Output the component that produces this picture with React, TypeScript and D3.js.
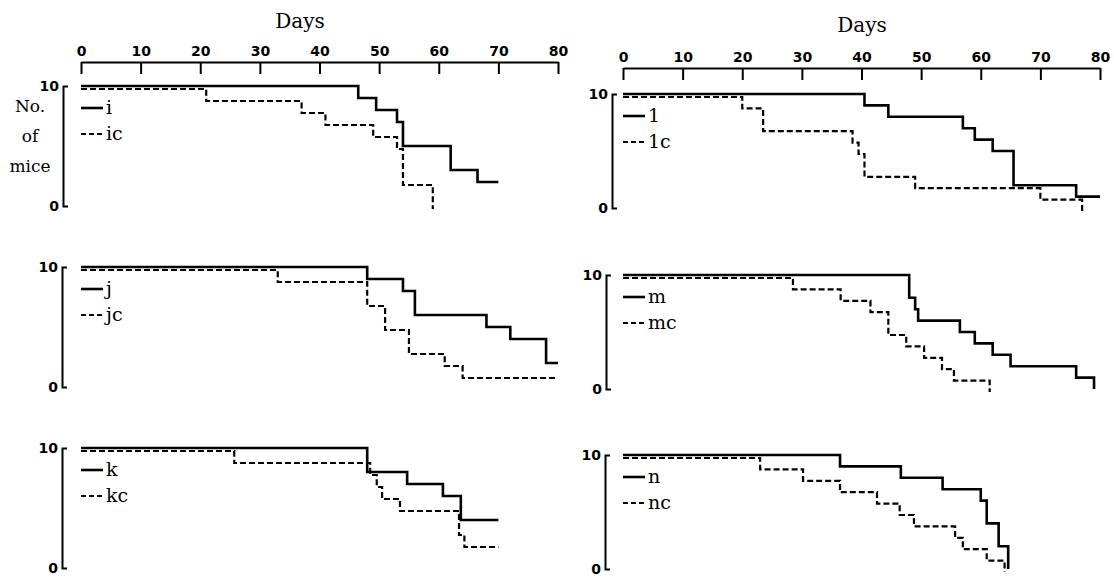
import React, { Component } from "react";
import * as d3 from "d3";

// survival steps: [day, number of mice alive from that day on]
const iSteps: [number, number][] = [[0, 10], [46.5, 9], [49.5, 8], [53, 7], [54, 5], [62, 3], [66.5, 2], [70, 2]];
const icSteps: [number, number][] = [[0, 10], [21, 9], [37, 8], [41, 7], [49, 6], [53, 5], [54, 2], [59, 0]];
const lSteps: [number, number][] = [[0, 10], [40.5, 9], [44.5, 8], [57, 7], [59, 6], [62, 5], [65.5, 2], [76, 1], [80, 1]];
const lcSteps: [number, number][] = [[0, 10], [20, 9], [23.5, 7], [38.5, 6], [39.5, 5], [40.5, 3], [49, 2], [70, 1], [77, 0]];
const jSteps: [number, number][] = [[0, 10], [48, 9], [54, 8], [56, 6], [68, 5], [72, 4], [78, 2], [80, 2]];
const jcSteps: [number, number][] = [[0, 10], [33, 9], [48, 7], [51, 5], [55, 3], [61, 2], [64, 1], [80, 1]];
const mSteps: [number, number][] = [[0, 10], [48, 8], [49, 7], [49.5, 6], [56.5, 5], [59, 4], [62, 3], [65, 2], [76, 1], [79, 0]];
const mcSteps: [number, number][] = [[0, 10], [28.5, 9], [36.5, 8], [41.5, 7], [44.5, 5], [47.5, 4], [50.5, 3], [53.5, 2], [55.5, 1], [61.5, 0]];
const kSteps: [number, number][] = [[0, 10], [48, 8], [54.7, 7], [60.7, 6], [63.7, 4], [70, 4]];
const kcSteps: [number, number][] = [[0, 10], [25.7, 9], [48.5, 8], [49.6, 7], [50.5, 6], [53.5, 5], [63.4, 3], [64.3, 2], [70, 2]];
const nSteps: [number, number][] = [[0, 10], [36.4, 9], [46.6, 8], [53.6, 7], [60, 6], [61, 4], [63, 2], [64.6, 0]];
const ncSteps: [number, number][] = [[0, 10], [23, 9], [30.2, 8], [36.4, 7], [42.6, 6], [46.4, 5], [48.8, 4], [55.7, 3], [57, 2], [61, 1], [64, 0]];

const seriesNames = ["i", "1", "j", "m", "k", "n"];
const dayTicks = [0, 10, 20, 30, 40, 50, 60, 70, 80];
const miceTicks = [0, 10];

const numFont = "'DejaVu Sans', sans-serif";
const wordFont = "'DejaVu Serif', serif";

class SurvivalChart extends Component {
    node: SVGSVGElement | null = null;

    componentDidMount() {
        this.draw();
    }

    draw() {
        const svg = d3.select(this.node);
        svg.selectAll("*").remove();

        const columns = [
            { x: d3.scaleLinear().domain([0, 80]).range([81, 558]), axisY: 62, daysX: 300, daysY: 28,
              tops: [86, 267, 448], h: 120, yAxisX: [63, 62, 62], legX: 81 },
            { x: d3.scaleLinear().domain([0, 80]).range([623, 1100]), axisY: 68, daysX: 862, daysY: 32,
              tops: [94, 275, 455], h: 114, yAxisX: [612, 606, 605], legX: 623 }
        ];

        const panels = [
            { col: 0, row: 0, solid: iSteps, dashed: icSteps, name: seriesNames[0] },
            { col: 1, row: 0, solid: lSteps, dashed: lcSteps, name: seriesNames[1] },
            { col: 0, row: 1, solid: jSteps, dashed: jcSteps, name: seriesNames[2] },
            { col: 1, row: 1, solid: mSteps, dashed: mcSteps, name: seriesNames[3] },
            { col: 0, row: 2, solid: kSteps, dashed: kcSteps, name: seriesNames[4] },
            { col: 1, row: 2, solid: nSteps, dashed: ncSteps, name: seriesNames[5] }
        ];

        // top day axes
        columns.forEach(c => {
            const g = svg.append("g").attr("transform", `translate(0,${c.axisY})`)
                .call(d3.axisTop(c.x).tickValues(dayTicks).tickSizeInner(-12).tickSizeOuter(0).tickPadding(6));
            g.select(".domain").attr("stroke", "#000").attr("stroke-width", 2.2);
            g.selectAll(".tick line").attr("stroke", "#000").attr("stroke-width", 2);
            g.selectAll(".tick text")
                .attr("font-family", numFont).attr("font-size", 14).attr("font-weight", "bold").attr("fill", "#000");

            svg.append("text")
                .attr("x", c.daysX).attr("y", c.daysY)
                .attr("text-anchor", "middle")
                .attr("font-family", wordFont).attr("font-size", 20)
                .text("Days");
        });

        panels.forEach(p => {
            const c = columns[p.col];
            const top = c.tops[p.row];
            const y = d3.scaleLinear().domain([0, 10]).range([top + c.h, top]);

            const ya = svg.append("g").attr("transform", `translate(${c.yAxisX[p.row]},0)`)
                .call(d3.axisLeft(y).tickValues(miceTicks).tickSizeInner(-5).tickSizeOuter(-5).tickPadding(4));
            ya.select(".domain").attr("stroke", "#000").attr("stroke-width", 2);
            ya.selectAll(".tick line").remove();
            ya.selectAll(".tick text")
                .attr("font-family", numFont).attr("font-size", 14).attr("font-weight", "bold").attr("fill", "#000");

            const line = d3.line<[number, number]>()
                .x(d => c.x(d[0]))
                .y(d => y(d[1]))
                .curve(d3.curveStepAfter);

            // dashed curve sits a hair below the solid one, as drawn
            svg.append("path")
                .datum(p.dashed)
                .attr("transform", "translate(0,3)")
                .attr("fill", "none").attr("stroke", "#000")
                .attr("stroke-width", 2.2).attr("stroke-dasharray", "6,3")
                .attr("d", line);

            svg.append("path")
                .datum(p.solid)
                .attr("fill", "none").attr("stroke", "#000")
                .attr("stroke-width", 2.6)
                .attr("d", line);

            // legend
            const lg = svg.append("g").attr("transform", `translate(${c.legX},${top})`);
            lg.append("line").attr("x1", 0).attr("x2", 22).attr("y1", 22).attr("y2", 22)
                .attr("stroke", "#000").attr("stroke-width", 2.6);
            lg.append("line").attr("x1", 0).attr("x2", 22).attr("y1", 48).attr("y2", 48)
                .attr("stroke", "#000").attr("stroke-width", 2.2).attr("stroke-dasharray", "5,3");
            lg.append("text").attr("x", 25).attr("y", 28)
                .attr("font-family", wordFont).attr("font-size", 19).text(p.name);
            lg.append("text").attr("x", 25).attr("y", 54)
                .attr("font-family", wordFont).attr("font-size", 19).text(p.name + "c");
        });

        // y label
        svg.append("g")
            .attr("font-family", wordFont).attr("font-size", 17).attr("text-anchor", "middle")
            .selectAll("text")
            .data(["No.", "of", "mice"])
            .join("text")
            .attr("x", 30)
            .attr("y", (d, i) => 112 + i * 30)
            .text(d => d);
    }

    render() {
        return <svg ref={node => { this.node = node; }} width={1114} height={580}
            style={{ position: "absolute", left: 0, top: 0, background: "#fff" }} />;
    }
}

export default function App() {
    return <SurvivalChart />;
}
